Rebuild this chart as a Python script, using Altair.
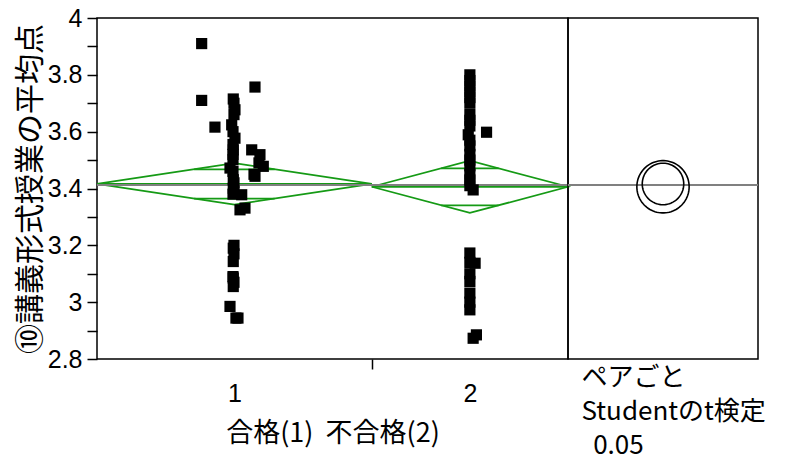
import altair as alt
import numpy as np
import pandas as pd

# ---------------- data ----------------
group_labels = ["1", "2"]

group1_values = [3.91, 3.71, 3.757, 3.715, 3.70, 3.677, 3.66, 3.624, 3.616, 3.60,
                 3.577, 3.555, 3.536, 3.536, 3.519, 3.52, 3.501, 3.49, 3.478, 3.472,
                 3.46, 3.443, 3.45, 3.431, 3.42, 3.401, 3.39, 3.378, 3.331, 3.325,
                 3.19, 3.20, 3.17, 3.143, 3.09, 3.085, 3.055, 3.07, 2.985, 2.944,
                 2.944, 3.38]
group1_jitter = [-5.0, -5.0, 3.15, -0.17, -0.06, 0.09, -0.06, -0.41, -2.97, -0.21,
                 0.09, -0.21, -0.17, 2.65, 3.91, -0.21, -0.21, 3.76, 4.42, -0.67,
                 -0.21, 3.15, 3.0, -0.17, -0.06, -0.17, -0.06, 1.12, 1.62, 0.86,
                 -0.17, -0.06, -0.06, -0.17, -0.21, -0.17, -0.17, -0.06, -0.67, 0.24,
                 0.55, -0.21]

group2_values = [3.80, 3.78, 3.76, 3.74, 3.72, 3.70, 3.66, 3.64, 3.62, 3.598,
                 3.589, 3.57, 3.55, 3.52, 3.50, 3.48, 3.45, 3.43, 3.41, 3.395,
                 3.173, 3.137, 3.14, 3.10, 3.073, 3.032, 3.00, 2.973, 2.885, 2.873]
group2_jitter = [0.0, 0.0, 0.0, 0.0, 0.0, 0.0, 0.0, 0.0, 0.0, 2.55,
                 -0.25, 0.0, 0.0, 0.0, 0.0, 0.0, 0.0, 0.0, 0.0, 0.5,
                 0.0, 0.8, 0.0, 0.0, 0.0, 0.0, 0.0, 0.0, 1.0, 0.5]

group_means = [3.416, 3.406]
group_ci = [0.073, 0.092]
grand_mean = 3.412

y_ticks = [2.8, 2.9, 3.0, 3.1, 3.2, 3.3, 3.4, 3.5, 3.6, 3.7, 3.8, 3.9, 4.0]
y_domain = [2.8, 4.0]
y_title = "⑩講義形式授業の平均点"
x_title = "合格(1)\u00a0\u00a0不合格(2)"
test_lines = ["ペアごと", "Studentのt検定", "\u200b\u00a0\u00a00.05"]

# ---------------- layout ----------------
W_LEFT, W_RIGHT, H = 471, 190, 341
GREEN = "#159a15"
GRAY = "#808080"
JP = "Noto Sans CJK JP"
NUM = "Liberation Sans, Arial, sans-serif"

counts = [len(group1_values), len(group2_values)]
starts = [0, counts[0]]
centers = [s + c / 2 for s, c in zip(starts, counts)]
N = sum(counts)

# points
pts = pd.DataFrame({
    "x": [centers[0] + j for j in group1_jitter] + [centers[1] + j for j in group2_jitter],
    "y": group1_values + group2_values,
})

# mean diamonds
drows = []
for g in range(2):
    s, c, e = starts[g], centers[g], starts[g] + counts[g]
    m, ci = group_means[g], group_ci[g]
    for k, (xx, yy) in enumerate([(s, m), (c, m + ci), (e, m), (c, m - ci), (s, m)]):
        drows.append({"grp": group_labels[g], "order": k, "x": xx, "y": yy})
diam = pd.DataFrame(drows)

mean_lines = pd.DataFrame({
    "x": starts,
    "x2": [s + c for s, c in zip(starts, counts)],
    "y": group_means,
})

k = 1 / np.sqrt(2)
orows = []
for g in range(2):
    half = counts[g] / 2 * (1 - k)
    for sgn in (1, -1):
        orows.append({"x": centers[g] - half, "x2": centers[g] + half,
                      "y": group_means[g] + sgn * group_ci[g] * k})
overlap = pd.DataFrame(orows)

grand_left = pd.DataFrame({"x": [0], "x2": [N], "y": [grand_mean]})

# comparison circles (x units equal to y units in the right panel)
ppu = H / (y_domain[1] - y_domain[0])
half_x = (W_RIGHT / 2) / ppu
theta = np.linspace(0, 2 * np.pi, 91)
crows = []
for g in range(2):
    for i, t in enumerate(theta):
        crows.append({"grp": group_labels[g], "order": i,
                      "x": group_ci[g] * np.cos(t),
                      "y": group_means[g] + group_ci[g] * np.sin(t)})
circ = pd.DataFrame(crows)
grand_right = pd.DataFrame({"x": [-half_x], "x2": [half_x], "y": [grand_mean]})

# ---------------- encodings ----------------
tick_test = f"datum.value == {counts[0]}"
x_left = alt.X(
    "x:Q",
    scale=alt.Scale(domain=[0, N], nice=False, zero=False),
    axis=alt.Axis(
        values=[centers[0], counts[0], centers[1]],
        labelExpr=f"datum.value == {centers[0]} ? '{group_labels[0]}' : (datum.value == {centers[1]} ? '{group_labels[1]}' : '')",
        tickOpacity={"condition": {"test": tick_test, "value": 1}, "value": 0},
        tickSize=10, tickWidth=1.5, tickColor="black",
        labelPadding=12, labelFont=NUM, labelFontSize=25, labelColor="black",
        title=x_title, titleFont=JP, titleFontSize=27, titleFontWeight="normal",
        titleColor="black", titlePadding=14,
        domain=False, grid=False,
    ),
)
y_left = alt.Y(
    "y:Q",
    scale=alt.Scale(domain=y_domain, nice=False, zero=False),
    axis=alt.Axis(
        values=y_ticks,
        labelExpr="round(datum.value * 10) % 2 == 0 ? format(datum.value, '~g') : ''",
        tickSize=10, tickWidth=1.5, tickColor="black",
        labelPadding=5, labelFont=NUM, labelFontSize=25, labelColor="black",
        title=y_title, titleFont=JP, titleFontSize=30, titleFontWeight="normal",
        titleColor="black", titlePadding=2,
        domain=False, grid=False,
    ),
)

left = alt.layer(
    alt.Chart(diam).mark_line(color=GREEN, strokeWidth=1.7).encode(
        x=x_left, y=y_left, detail="grp:N", order="order:Q"),
    alt.Chart(mean_lines).mark_rule(color=GREEN, strokeWidth=1.8).encode(
        x=x_left, x2="x2:Q", y=y_left),
    alt.Chart(overlap).mark_rule(color=GREEN, strokeWidth=1.7).encode(
        x=x_left, x2="x2:Q", y=y_left),
    alt.Chart(grand_left).mark_rule(color=GRAY, strokeWidth=2).encode(
        x=x_left, x2="x2:Q", y=y_left),
    alt.Chart(pts).mark_square(color="black", size=125, opacity=1).encode(
        x=x_left, y=y_left),
).properties(width=W_LEFT, height=H)

x_right = alt.X(
    "x:Q",
    scale=alt.Scale(domain=[-half_x, half_x], nice=False, zero=False),
    axis=alt.Axis(
        labels=False, ticks=False, domain=False, grid=False,
        title=test_lines, titleFont=JP, titleFontSize=26, titleFontWeight="normal",
        titleColor="black", titleAnchor="start", titleAlign="left", titleX=13,
        titlePadding=5, titleLineHeight=34,
    ),
)
y_right = alt.Y("y:Q", scale=alt.Scale(domain=y_domain, nice=False, zero=False), axis=None)

right = alt.layer(
    alt.Chart(grand_right).mark_rule(color=GRAY, strokeWidth=2).encode(
        x=x_right, x2="x2:Q", y=y_right),
    alt.Chart(circ).mark_line(color="black", strokeWidth=1.6).encode(
        x=x_right, y=y_right, detail="grp:N", order="order:Q"),
).properties(width=W_RIGHT, height=H)

chart = alt.hconcat(left, right, spacing=0, bounds="flush").properties(
    padding={"left": 6, "top": -3, "right": 0, "bottom": 0}
).configure_view(stroke="black", strokeWidth=1.5)

chart.save("out.html", embed_options={"renderer": "svg", "actions": False})
